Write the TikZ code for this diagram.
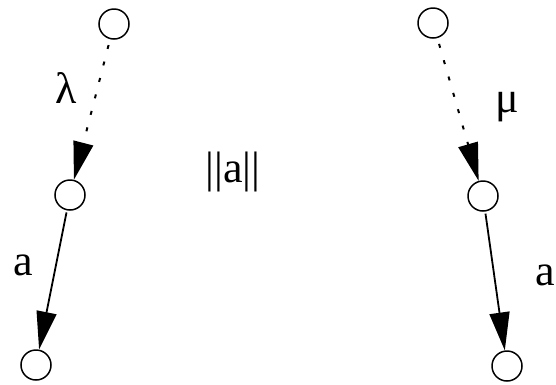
\documentclass[tikz,border=0pt]{standalone}
\usepackage{fontspec}
\setmainfont{Liberation Serif}
\newfontfamily\serf{Liberation Serif}
\usetikzlibrary{arrows.meta}
\begin{document}
\begin{tikzpicture}[x=1pt,y=-1pt,
  state/.style={circle,draw,line width=1.5pt,minimum size=30pt,inner sep=0pt},
  lbl/.style={font=\serf\fontsize{44}{52}\selectfont,inner sep=0pt},
  tri/.style={-{Triangle[length=38pt,width=20pt]}},
  dotarrow/.style={tri,line width=2pt,dash pattern=on 4pt off 13pt,shorten <=6pt},
  solidarrow/.style={tri,line width=1.8pt,shorten <=2pt}]
\useasboundingbox (0,0) rectangle (556,384);
\node[state] (l1) at (114,24) {};
\node[state] (l2) at (70,195) {};
\node[state] (l3) at (36,365) {};
\node[state] (r1) at (433,23) {};
\node[state] (r2) at (483,196) {};
\node[state] (r3) at (507,366) {};
\draw[dotarrow] (l1) -- (l2);
\draw[solidarrow] (l2) -- (l3);
\draw[dotarrow] (r1) -- (r2);
\draw[solidarrow] (r2) -- (r3);
\node[lbl] (lam) at (66,88) {λ};
\node[lbl] (la) at (23,265) {a};
\node[lbl] (mu) at (507,107) {μ};
\node[lbl] (ra) at (545,275) {a};
\node[lbl] (na) at (233,172) {||a||};
\end{tikzpicture}
\end{document}
